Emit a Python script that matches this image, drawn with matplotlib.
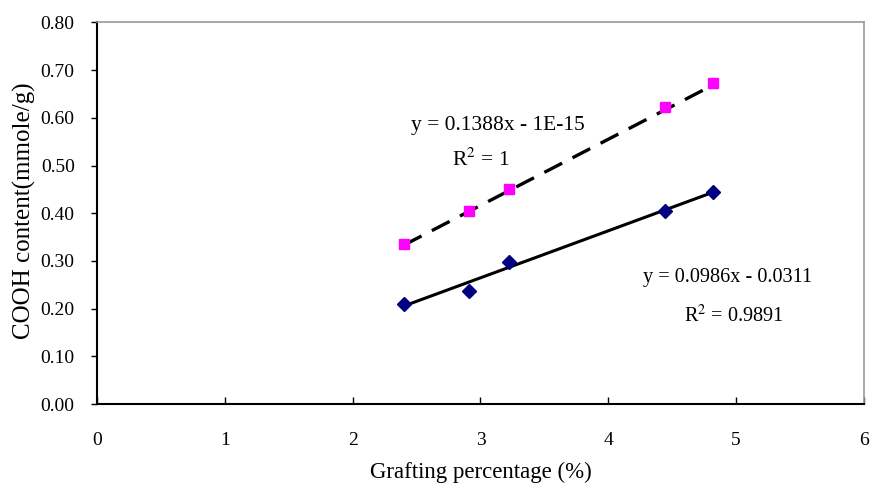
import numpy as np
import matplotlib
matplotlib.use("Agg")
import matplotlib.pyplot as plt

plt.rcParams['font.family'] = ['Liberation Serif', 'DejaVu Serif']
plt.rcParams['mathtext.fontset'] = 'stix'

# grafting percentage (%)
graft = [2.40, 2.91, 3.22, 4.44, 4.82]
# COOH content (mmole/g)
cooh_upper = [0.335, 0.404, 0.451, 0.623, 0.673]
cooh_lower = [0.210, 0.237, 0.298, 0.404, 0.444]

# trendline coefficients shown on the chart
fit_upper = (0.1388, 0.0)
fit_lower = (0.0986, -0.0311)
label_upper = ["y = 0.1388x - 1E-15", "R$^2$ = 1"]
label_lower = ["y = 0.0986x - 0.0311", "R$^2$ = 0.9891"]

xticks = [0, 1, 2, 3, 4, 5, 6]
yticks = [0.0, 0.1, 0.2, 0.3, 0.4, 0.5, 0.6, 0.7, 0.8]

fig = plt.figure(figsize=(8.73, 4.94), dpi=100)
ax = fig.add_axes([0.111, 0.182, 0.8787, 0.7725])

xs = np.array([min(graft), max(graft)])
ax.plot(xs, fit_upper[0] * xs + fit_upper[1], color='black', lw=2.4,
        dashes=(6, 3.5), zorder=2)
ax.plot(xs, fit_lower[0] * xs + fit_lower[1], color='black', lw=2.2, zorder=2)

ax.plot(graft, cooh_upper, ls='none', marker='s', ms=7.5, color='#ff00ff',
        mec='#ff00ff', zorder=3)
ax.plot(graft, cooh_lower, ls='none', marker='D', ms=7, color='#000080',
        mec='#000080', zorder=3)

ax.text(3.14, 0.585, label_upper[0], fontsize=15.5, ha='center', va='center')
ax.text(3.00, 0.512, label_upper[1], fontsize=15.5, ha='center', va='center')
ax.text(4.93, 0.266, label_lower[0], fontsize=14.6, ha='center', va='center')
ax.text(4.98, 0.185, label_lower[1], fontsize=14.6, ha='center', va='center')

ax.set_xlim(0, 6)
ax.set_ylim(0, 0.8)
ax.set_xticks(xticks)
ax.set_yticks(yticks)
ax.set_yticklabels(['%.2f' % v for v in yticks])
ax.tick_params(axis='x', direction='in', length=5, width=1, labelsize=14, pad=20)
ax.tick_params(axis='y', direction='out', length=4, width=1, labelsize=14, pad=12)

for s in ['left', 'bottom']:
    ax.spines[s].set_color('black')
    ax.spines[s].set_linewidth(1.5)
for s in ['top', 'right']:
    ax.spines[s].set_color('#999999')
    ax.spines[s].set_linewidth(1.2)

ax.set_xlabel('Grafting percentage (%)', fontsize=16.5)
ax.xaxis.set_label_coords(0.5007, -0.150)
ax.set_ylabel('COOH content(mmole/g)', fontsize=18)
ax.yaxis.set_label_coords(-0.080, 0.508)

fig.savefig('out.png', dpi=100)
